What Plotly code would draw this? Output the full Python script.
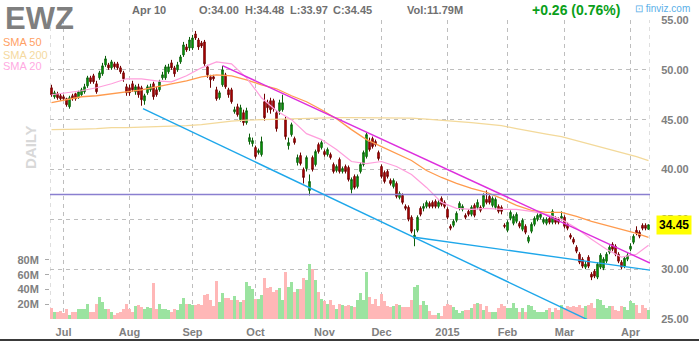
import plotly.graph_objects as go
import pandas as pd

# ---------------- data ----------------
holidays = ["2014-07-04", "2014-09-01", "2014-11-27", "2014-12-25",
            "2015-01-01", "2015-01-19", "2015-02-16", "2015-04-03"]
dates = [d for d in pd.bdate_range("2014-06-25", "2015-04-10")
         if d.strftime("%Y-%m-%d") not in holidays]

opens = [48.2, 47.3, 47.6, 47.4, 47.3, 47.1, 46.3, 47.4, 47.6, 47.2,
         47.5, 47.8, 48.4, 49.2, 49.4, 48.6, 49.2, 49.6, 50.5, 50.5,
         50.2, 50.6, 50.6, 50.2, 49.7, 48.3, 48.2, 48.6, 47.8, 48.3,
         48.2, 46.9, 47.7, 48.0, 48.6, 48.0, 48.0, 49.2, 49.2, 49.8,
         50.7, 50.2, 50.0, 50.8, 51.5, 52.3, 52.2, 52.2, 53.6, 53.0,
         52.7, 52.8, 50.3, 49.3, 49.3, 48.0, 47.2, 48.5, 49.5, 48.0,
         48.0, 45.8, 46.3, 45.0, 45.7, 44.7, 42.8, 42.6, 42.2, 41.7,
         41.5, 46.8, 46.7, 46.9, 46.9, 45.7, 45.9, 46.0, 45.0, 42.4,
         43.5, 43.1, 40.7, 41.4, 40.0, 40.1, 37.9, 41.2, 40.5, 42.5,
         42.2, 41.8, 41.5, 41.5, 40.5, 39.9, 41.0, 39.8, 40.3, 40.2,
         38.0, 39.3, 38.3, 39.8, 40.5, 41.3, 42.8, 43.1, 42.8, 41.7,
         40.3, 39.7, 39.8, 38.9, 38.3, 38.6, 37.2, 37.4, 36.3, 36.2,
         35.2, 33.1, 33.9, 36.1, 36.1, 36.3, 36.6, 36.7, 36.8, 36.3,
         37.1, 36.7, 36.0, 34.3, 34.4, 34.9, 36.1, 36.0, 35.4, 35.8,
         35.5, 36.4, 36.2, 36.2, 36.3, 37.0, 37.3, 36.4, 36.2, 36.3,
         36.2, 34.4, 33.9, 35.1, 34.6, 34.8, 34.6, 34.0, 34.3, 32.8,
         33.8, 34.5, 35.0, 35.2, 34.7, 34.6, 35.1, 34.7, 35.1, 35.0,
         35.1, 35.2, 34.5, 33.4, 33.0, 32.2, 31.5, 31.0, 30.2, 31.2,
         29.5, 29.8, 29.2, 30.2, 30.1, 30.8, 31.7, 32.5, 32.3, 31.5,
         30.7, 30.3, 31.0, 32.0, 32.7, 33.9, 33.7, 34.4, 34.4, 34.00]

closes = [47.5, 47.7, 47.2, 47.1, 47.1, 46.5, 47.2, 47.1, 47.1, 47.8,
          48.0, 48.3, 49.2, 48.8, 48.8, 47.8, 49.7, 50.4, 51.1, 50.2,
          50.8, 50.3, 50.2, 49.8, 49.1, 47.7, 47.7, 48.0, 48.3, 47.5,
          47.0, 47.4, 48.3, 48.3, 47.3, 47.5, 48.8, 49.5, 50.3, 50.3,
          50.2, 49.6, 50.5, 51.3, 52.5, 52.0, 53.0, 53.2, 53.2, 52.3,
          52.4, 50.6, 49.5, 49.0, 49.1, 47.1, 47.7, 50.0, 48.3, 47.5,
          46.8, 46.0, 45.5, 46.2, 44.7, 45.9, 43.2, 42.9, 41.3, 41.9,
          42.8, 45.2, 46.2, 46.0, 46.1, 44.1, 46.7, 46.7, 43.3, 42.7,
          44.5, 42.7, 41.2, 40.6, 39.2, 41.2, 38.8, 40.0, 41.8, 41.8,
          42.7, 41.5, 42.0, 41.2, 39.8, 40.3, 39.8, 40.1, 39.8, 39.0,
          39.0, 38.2, 39.3, 40.5, 41.7, 43.5, 42.0, 42.3, 42.5, 41.1,
          39.3, 38.8, 39.3, 38.6, 38.9, 37.3, 37.6, 36.7, 36.1, 35.0,
          33.8, 33.4, 35.2, 35.5, 36.3, 36.7, 36.3, 36.3, 36.3, 36.7,
          36.5, 36.3, 35.2, 34.1, 34.8, 35.6, 36.6, 36.3, 35.2, 35.5,
          36.2, 35.4, 36.7, 35.9, 37.4, 36.7, 36.7, 37.1, 37.0, 35.8,
          35.8, 34.3, 34.7, 35.7, 35.3, 35.5, 34.3, 34.9, 33.7, 33.2,
          34.5, 35.1, 35.4, 35.5, 35.0, 35.0, 34.7, 35.8, 34.7, 34.7,
          35.3, 34.3, 34.1, 33.2, 32.7, 31.8, 30.7, 30.3, 30.5, 30.3,
          29.2, 29.3, 30.5, 31.4, 31.0, 31.5, 32.2, 32.0, 31.5, 30.8,
          30.2, 31.1, 31.4, 32.3, 33.3, 33.6, 33.3, 34.1, 34.1, 34.45]

highs = [48.5, 47.9, 47.8, 47.6, 47.5, 47.2, 47.4, 47.6, 47.7, 47.9,
         48.2, 48.6, 49.4, 49.4, 49.6, 48.9, 49.9, 50.7, 51.4, 50.7,
         51.0, 50.8, 50.8, 50.4, 49.9, 48.6, 48.5, 48.9, 48.5, 48.6,
         48.4, 47.6, 48.5, 48.6, 48.8, 48.3, 49.0, 49.8, 50.5, 50.6,
         51.0, 50.4, 50.8, 51.5, 52.8, 52.6, 53.3, 53.5, 53.9, 53.2,
         52.9, 53.0, 50.5, 49.5, 49.5, 48.3, 47.9, 50.4, 49.7, 48.2,
         48.2, 46.3, 46.6, 46.5, 46.0, 46.2, 43.6, 43.2, 42.4, 42.1,
         43.3, 47.6, 47.0, 47.2, 47.1, 45.9, 47.0, 47.5, 45.3, 43.2,
         44.7, 43.3, 41.5, 41.7, 40.2, 41.4, 39.5, 41.4, 42.0, 42.7,
         42.9, 42.0, 42.2, 41.7, 40.7, 40.5, 41.2, 40.3, 40.5, 40.4,
         39.2, 39.5, 39.5, 40.7, 41.9, 43.7, 43.2, 43.3, 43.0, 41.9,
         40.5, 39.9, 40.0, 39.1, 39.1, 38.8, 37.8, 37.6, 36.5, 36.4,
         35.4, 34.0, 35.4, 36.3, 36.6, 36.9, 36.8, 36.9, 37.0, 36.9,
         37.3, 36.9, 36.2, 34.5, 35.0, 35.8, 36.8, 36.5, 35.6, 36.0,
         36.4, 36.6, 37.0, 36.4, 37.6, 37.9, 37.5, 37.3, 37.2, 36.5,
         36.4, 34.6, 34.9, 35.9, 35.5, 35.7, 34.8, 35.1, 34.5, 33.4,
         34.7, 35.3, 35.6, 35.7, 35.2, 35.2, 35.3, 36.0, 35.3, 35.2,
         35.8, 35.4, 34.7, 33.6, 33.2, 32.4, 31.7, 31.2, 30.8, 31.4,
         29.7, 30.0, 30.7, 31.6, 31.2, 31.7, 32.4, 32.7, 32.5, 31.7,
         30.9, 31.3, 31.6, 32.6, 33.5, 34.3, 33.9, 34.6, 34.6, 34.48]

lows = [47.3, 47.1, 47.0, 46.9, 46.9, 46.3, 46.1, 46.9, 46.9, 47.1,
        47.4, 47.6, 48.2, 48.6, 48.6, 47.6, 49.0, 49.4, 50.3, 50.0,
        50.0, 50.1, 50.0, 49.6, 48.8, 47.4, 47.4, 47.8, 47.5, 47.2,
        46.4, 46.5, 47.5, 47.8, 47.0, 47.3, 47.8, 49.0, 49.0, 49.6,
        50.0, 49.3, 49.8, 50.6, 51.3, 51.8, 51.9, 52.0, 53.0, 52.0,
        52.2, 50.4, 49.2, 48.2, 48.9, 46.9, 47.0, 48.3, 48.1, 47.2,
        46.6, 45.6, 45.3, 44.8, 44.4, 44.5, 42.5, 42.3, 41.1, 41.5,
        41.3, 44.9, 45.7, 45.6, 45.8, 43.8, 45.5, 45.8, 43.0, 42.0,
        43.3, 42.5, 40.4, 40.4, 38.6, 39.8, 37.4, 39.8, 40.3, 41.6,
        42.0, 41.3, 41.3, 41.0, 39.6, 39.7, 39.6, 39.6, 39.6, 38.8,
        37.6, 38.0, 38.1, 39.6, 40.3, 41.1, 41.8, 42.1, 42.3, 40.9,
        39.1, 38.6, 39.1, 38.4, 38.1, 37.1, 37.0, 36.5, 35.9, 34.8,
        33.6, 32.3, 33.7, 35.3, 35.8, 36.1, 36.1, 36.1, 36.1, 36.1,
        36.3, 36.1, 35.0, 33.9, 34.2, 34.7, 35.9, 35.8, 35.0, 35.3,
        35.3, 35.2, 36.0, 35.7, 36.1, 36.5, 36.5, 36.2, 36.0, 35.6,
        35.5, 34.1, 33.7, 34.9, 34.4, 34.6, 34.1, 33.8, 33.5, 32.6,
        33.6, 34.3, 34.8, 35.0, 34.5, 34.4, 34.5, 34.5, 34.5, 34.5,
        34.9, 34.1, 33.9, 33.0, 32.5, 31.6, 30.5, 30.1, 30.0, 30.1,
        28.9, 29.1, 29.0, 30.0, 29.9, 30.6, 31.5, 31.8, 31.3, 30.6,
        30.0, 30.1, 30.8, 31.8, 32.5, 33.4, 33.1, 33.9, 33.9, 33.97]

volume_m = [15, 9, 9, 11, 8, 13, 6, 10, 10, 14,
            13, 13, 20, 10, 10, 20, 30, 23, 13, 13,
            10, 6, 8, 10, 14, 20, 13, 10, 17, 19,
            16, 14, 16, 15, 49, 14, 20, 14, 14, 12,
            10, 13, 12, 20, 28, 20, 20, 19, 19, 20,
            19, 33, 34, 26, 17, 51, 23, 35, 28, 28,
            26, 31, 26, 23, 26, 50, 45, 40, 27, 27,
            33, 55, 42, 43, 37, 39, 42, 26, 64, 44,
            50, 37, 41, 40, 55, 53, 75, 68, 53, 37,
            27, 25, 20, 26, 19, 13, 21, 19, 18, 19,
            18, 16, 26, 35, 26, 64, 30, 20, 27, 18,
            34, 25, 18, 16, 18, 21, 19, 16, 16, 16,
            26, 44, 46, 19, 25, 19, 11, 5, 6, 8,
            4, 17, 20, 19, 16, 12, 8, 11, 12, 12,
            15, 20, 22, 20, 12, 17, 9, 9, 10, 15,
            21, 18, 15, 15, 22, 15, 9, 15, 9, 19,
            17, 12, 9, 9, 10, 12, 15, 10, 15, 12,
            19, 15, 18, 16, 18, 16, 19, 15, 17, 19,
            22, 15, 27, 26, 19, 15, 18, 17, 12, 11,
            17, 16, 12, 24, 22, 19, 8, 19, 15, 11.79]

# moving averages every 5 sessions (last point = last session)
sma_idx = list(range(0, 200, 5)) + [199]
sma50 = [46.7, 47.0, 47.3, 47.4, 47.6, 47.8, 48.0, 48.3, 48.6, 48.9,
         49.3, 49.5, 49.4, 49.0, 48.5, 48.1, 47.4, 46.8, 46.0, 45.1,
         44.0, 43.0, 42.3, 41.6, 40.9, 39.9, 39.2, 38.6, 38.1, 37.7,
         37.1, 36.4, 35.9, 35.7, 35.7, 35.3, 34.8, 34.4, 34.0, 33.6, 33.2]
sma200 = [44.0, 44.0, 44.05, 44.1, 44.2, 44.2, 44.25, 44.3, 44.3, 44.4,
          44.5, 44.7, 44.85, 44.95, 45.0, 45.05, 45.1, 45.1, 45.15, 45.2,
          45.2, 45.2, 45.2, 45.2, 45.15, 45.05, 44.95, 44.85, 44.7, 44.55,
          44.4, 44.1, 43.8, 43.55, 43.3, 42.9, 42.5, 42.1, 41.7, 41.3, 40.9]
sma20 = [47.5, 47.7, 47.9, 48.2, 48.6, 49.1, 49.1, 48.9, 48.8, 49.4,
         50.2, 50.8, 50.6, 49.2, 47.2, 45.9, 45.0, 43.6, 43.0, 42.0,
         40.8, 40.6, 40.8, 40.3, 39.5, 38.2, 36.7, 36.1, 36.0, 36.1,
         36.0, 36.0, 35.8, 35.5, 35.0, 34.1, 33.0, 32.0, 31.2, 31.5, 32.4]

# drawn trendlines (session index, price)
magenta_x, magenta_y = [57, 199.5], [50.42, 30.62]
blue1_x, blue1_y = [30.5, 181], [46.1, 24.6]
blue2_x, blue2_y = [121, 199.5], [33.2, 29.9]
hline_price = 37.5

last_price = 34.45

# ---------------- figure ----------------
idx = list(range(len(dates)))
W, H = 699, 341
L, R, T, B = 50, 49, 20, 22
PW, PH = W - L - R, H - T - B


def px(x):
    return (x - L) / PW


def py(y):
    return (H - B - y) / PH


month_idx, month_lbl = [], []
for i in range(1, len(dates)):
    if dates[i].month != dates[i - 1].month:
        month_idx.append(i)
        month_lbl.append(str(dates[i].year) if dates[i].month == 1 else dates[i].strftime("%b"))

up = [c >= o for o, c in zip(opens, closes)]
vol_colors = ["#9BE3A0" if u else "#FFB7B7" for u in up]

fig = go.Figure()
fig.add_trace(go.Bar(x=idx, y=[v * 1e6 for v in volume_m], marker_color=vol_colors,
                     marker_line_width=0, yaxis="y", hoverinfo="skip", showlegend=False))

fig.add_trace(go.Scatter(x=sma_idx, y=sma200, mode="lines", yaxis="y2",
                         line=dict(color="#F3D99A", width=1.3), showlegend=False))
fig.add_trace(go.Scatter(x=sma_idx, y=sma50, mode="lines", yaxis="y2",
                         line=dict(color="#FF9B4E", width=1.3), showlegend=False))
fig.add_trace(go.Scatter(x=sma_idx, y=sma20, mode="lines", yaxis="y2",
                         line=dict(color="#FF9EDC", width=1.2), showlegend=False))
fig.add_trace(go.Scatter(x=[-0.5, 199.5], y=[hline_price, hline_price], mode="lines", yaxis="y2",
                         line=dict(color="#8A7FD0", width=1.5), showlegend=False))
fig.add_trace(go.Scatter(x=blue1_x, y=blue1_y, mode="lines", yaxis="y2",
                         line=dict(color="#1EA7EA", width=1.4), showlegend=False))
fig.add_trace(go.Scatter(x=blue2_x, y=blue2_y, mode="lines", yaxis="y2",
                         line=dict(color="#1EA7EA", width=1.4), showlegend=False))
fig.add_trace(go.Scatter(x=magenta_x, y=magenta_y, mode="lines", yaxis="y2",
                         line=dict(color="#DD2FDD", width=1.4), showlegend=False))

fig.add_trace(go.Candlestick(
    x=idx, open=opens, high=highs, low=lows, close=closes, yaxis="y2",
    text=[d.strftime("%b %d, %Y") for d in dates],
    increasing=dict(line=dict(color="#0B5E0B", width=1), fillcolor="#00C000"),
    decreasing=dict(line=dict(color="#700000", width=1), fillcolor="#D00000"),
    whiskerwidth=0, showlegend=False))

grid = dict(showgrid=True, gridcolor="#BEBEBE", griddash="4px,4px", gridwidth=1)
tickfont = dict(family="Liberation Sans", size=11, color="#808080", weight="bold")

fig.update_layout(
    width=W, height=H, margin=dict(l=L, r=R, t=T, b=B, autoexpand=False),
    paper_bgcolor="white", plot_bgcolor="white",
    bargap=0, showlegend=False,
    xaxis=dict(range=[-0.5, 199.5], tickvals=month_idx, ticktext=month_lbl,
               ticks="outside", ticklen=3, tickcolor="rgba(0,0,0,0)",
               tickfont=tickfont, zeroline=False, showline=False, automargin=False,
               rangeslider=dict(visible=False), **grid),
    yaxis=dict(range=[0, 405e6], side="left", tickvals=[20e6, 40e6, 60e6, 80e6],
               ticktext=["20M", "40M", "60M", "80M"], showgrid=False, zeroline=False,
               ticks="outside", ticklen=4, tickcolor="#AAAAAA", tickfont=tickfont,
               ticklabelstandoff=4, automargin=False),
    yaxis2=dict(range=[25, 55], overlaying="y", side="right", dtick=5, tickformat=".2f",
                ticks="outside", ticklen=8, tickcolor="rgba(0,0,0,0)", tickfont=tickfont,
                zeroline=False, automargin=False, **grid),
)

# plot frame edges (dashed)
for xe in (-0.5, 199.5):
    fig.add_shape(type="line", xref="x", yref="paper", x0=xe, x1=xe, y0=0, y1=1,
                  line=dict(color="#BEBEBE", width=1, dash="4px,4px"), layer="below")
fig.add_shape(type="line", xref="paper", yref="paper", x0=px(0), x1=px(699), y0=py(340), y1=py(340),
              line=dict(color="#3A3A3A", width=2))

ann = []


def text(xpix, ypix, s, size, color, bold=True, anchor="left", family="Liberation Sans", angle=0):
    ann.append(dict(xref="paper", yref="paper", x=px(xpix), y=py(ypix), text=s, showarrow=False,
                    xanchor=anchor, yanchor="middle", textangle=angle,
                    font=dict(family=family, size=size, color=color, weight="bold" if bold else "normal")))


text(3, 18, "EWZ", 31, "#7F7F7F")
text(130, 10, "Apr 10", 11, "#707070")
text(197, 10, "O:34.00", 11, "#707070")
text(243, 10, "H:34.48", 11, "#707070")
text(288, 10, "L:33.97", 11, "#707070")
text(331, 10, "C:34.45", 11, "#707070")
text(405, 10, "Vol:11.79M", 11, "#707070")
text(530, 10, "+0.26 (0.76%)", 14, "#0A9F1A")
text(633, 8, "⊡ finviz.com", 10, "#5AAFE8", bold=False)
text(1, 42.5, "SMA 50", 11, "#FFA064", bold=False)
text(1, 54.5, "SMA 200", 11, "#F5D9A0", bold=False)
text(1, 66, "SMA 20", 11, "#FFAAE2", bold=False)
text(30, 147, "DAILY", 15, "#D8D8D8", anchor="center", angle=-90)

ann.append(dict(xref="paper", yref="y2", x=px(656), y=last_price, text="34.45", showarrow=False,
                xanchor="left", yanchor="middle", bgcolor="#FFFF00", borderpad=2,
                font=dict(family="Liberation Sans", size=12, color="#000000", weight="bold")))
fig.update_layout(annotations=ann)

fig.write_html("out.html")
